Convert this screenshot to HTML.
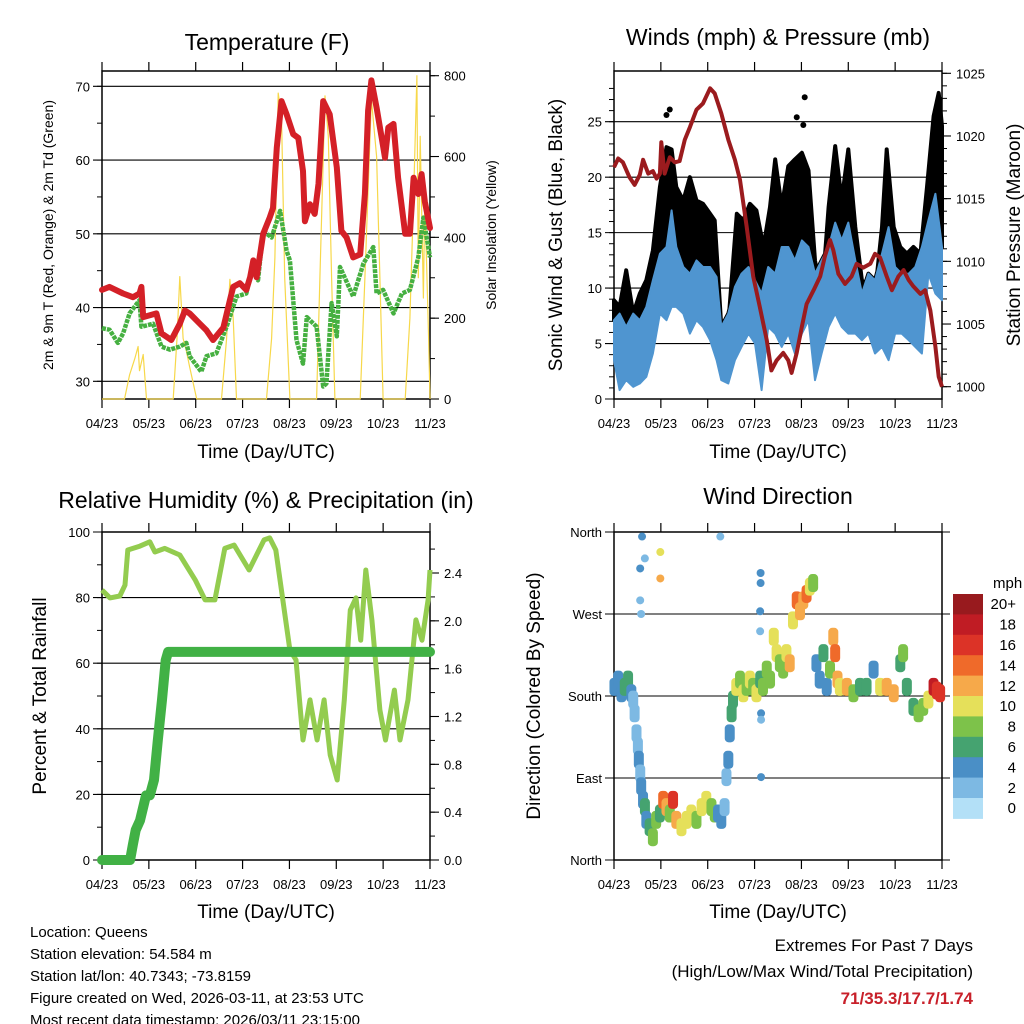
<!DOCTYPE html>
<html><head><meta charset="utf-8">
<style>
html,body{margin:0;padding:0;background:#fff;}
svg{display:block;font-family:"Liberation Sans",Arial,sans-serif;}
</style></head>
<body>
<svg id="chart" width="1024" height="1024" viewBox="0 0 1024 1024" xmlns="http://www.w3.org/2000/svg">
  <g id="static">
    <text x="267" y="50" font-size="23" text-anchor="middle">Temperature (F)</text>
    <text x="778" y="45" font-size="23" text-anchor="middle">Winds (mph) &amp; Pressure (mb)</text>
    <text x="266" y="508" font-size="23" text-anchor="middle">Relative Humidity (%) &amp; Precipitation (in)</text>
    <text x="778" y="504" font-size="23" text-anchor="middle">Wind Direction</text>
    <text x="266" y="458" font-size="19" text-anchor="middle">Time (Day/UTC)</text>
    <text x="778" y="458" font-size="19" text-anchor="middle">Time (Day/UTC)</text>
    <text x="266" y="918" font-size="19" text-anchor="middle">Time (Day/UTC)</text>
    <text x="778" y="918" font-size="19" text-anchor="middle">Time (Day/UTC)</text>
    <text transform="translate(53,235) rotate(-90)" font-size="14" text-anchor="middle">2m &amp; 9m T (Red, Orange) &amp; 2m Td (Green)</text>
    <text transform="translate(496,235) rotate(-90)" font-size="14" text-anchor="middle">Solar Insolation (Yellow)</text>
    <text transform="translate(562,235) rotate(-90)" font-size="19" text-anchor="middle">Sonic Wind &amp; Gust (Blue, Black)</text>
    <text transform="translate(1020,235) rotate(-90)" font-size="19" text-anchor="middle">Station Pressure (Maroon)</text>
    <text transform="translate(46,696) rotate(-90)" font-size="19" text-anchor="middle">Percent &amp; Total Rainfall</text>
    <text transform="translate(540,696) rotate(-90)" font-size="19" text-anchor="middle">Direction (Colored By Speed)</text>
    <g font-size="15">
      <text x="30" y="937">Location: Queens</text>
      <text x="30" y="959">Station elevation: 54.584 m</text>
      <text x="30" y="981">Station lat/lon: 40.7343; -73.8159</text>
      <text x="30" y="1003">Figure created on Wed, 2026-03-11, at 23:53 UTC</text>
      <text x="30" y="1025">Most recent data timestamp: 2026/03/11 23:15:00</text>
    </g>
    <text x="973" y="951" font-size="17" text-anchor="end">Extremes For Past 7 Days</text>
    <text x="973" y="977" font-size="17" text-anchor="end">(High/Low/Max Wind/Total Precipitation)</text>
    <text x="973" y="1004" font-size="17" font-weight="bold" fill="#c8202a" text-anchor="end">71/35.3/17.7/1.74</text>
    <text x="993" y="588" font-size="15">mph</text>
  </g>
</svg>
<script>
// ---------- DATA ----------
const xTickLabels = ["04/23","05/23","06/23","07/23","08/23","09/23","10/23","11/23"];
const tempTicks = [30,40,50,60,70];
const solarTicks = [0,200,400,600,800];
const windTicks = [0,5,10,15,20,25];
const pressTicks = [1000,1005,1010,1015,1020,1025];
const rhTicks = [0,20,40,60,80,100];
const precipTicks = [0.0,0.4,0.8,1.2,1.6,2.0,2.4];
const dirTicks = [0,90,180,270,360];
const dirTickLabels = ["North","East","South","West","North"];
const speedBins = ["0","2","4","6","8","10","12","14","16","18","20+"];

const tempT = [0,0.16,0.45,0.66,0.80,0.84,0.88,1.16,1.27,1.48,1.66,1.77,1.87,2.09,2.23,2.37,2.59,2.73,2.80,2.94,3.08,3.16,3.23,3.30,3.44,3.58,3.65,3.73,3.83,3.94,4.08,4.19,4.29,4.33,4.44,4.54,4.62,4.72,4.86,5.01,5.11,5.22,5.36,5.51,5.61,5.68,5.75,5.86,5.97,6.04,6.11,6.22,6.32,6.47,6.57,6.65,6.75,6.82,6.89,7.0];
const tempRed = [42.4,42.8,41.9,41.4,41.9,42.8,38.7,39.2,36.5,35.6,37.8,39.6,39.2,37.8,36.9,35.6,37.3,41,42.8,43.3,42.4,44.1,46.4,44.1,50,52.2,53.5,61.7,68,66.2,63.5,63,58.5,51.7,54,52.7,56.8,68,66.2,59,50.4,49.5,46.8,47.2,55.4,66.7,70.8,67.1,63,60.3,64.4,64.9,57.6,50,50,57.6,55.4,58.1,54.4,50.8];
const dewT = [0,0.16,0.34,0.45,0.59,0.80,0.84,1.09,1.27,1.45,1.66,1.80,1.87,2.12,2.23,2.44,2.66,2.87,3.08,3.23,3.33,3.44,3.62,3.80,3.94,4.01,4.15,4.29,4.37,4.58,4.72,4.79,4.90,5.01,5.08,5.36,5.58,5.79,5.86,6.00,6.22,6.40,6.57,6.75,6.86,7.0];
const dewGreen = [37.2,37,35.2,36.5,39.2,41,37.4,37.8,34.7,34.3,34.7,35.2,33.4,31.3,33.4,33.8,37.4,41.5,41.9,46,43.7,50.4,49.5,53.1,47.7,46.4,35.6,32.4,38.7,37.4,29.3,29.7,40.6,36.1,45.5,41.5,46,48.2,41.9,42.4,39.2,41.9,42.4,46.8,52.2,46.8];
const solarT = [0,0.48,0.59,0.70,0.77,0.80,0.88,0.95,1.52,1.60,1.66,1.73,1.80,1.87,2.02,2.55,2.66,2.73,2.80,2.87,3.51,3.62,3.69,3.76,3.83,3.90,4.01,4.58,4.65,4.76,4.83,4.90,4.97,5.51,5.61,5.75,5.86,5.93,6.00,6.47,6.57,6.65,6.72,6.75,6.79,6.86,6.89,6.97,7.0];
const solarW = [0,0,60,100,130,70,110,0,0,150,303,150,120,80,0,0,150,296,200,0,0,150,350,757,700,300,0,0,300,750,650,300,0,0,300,742,600,300,0,0,200,500,800,300,650,250,500,150,0];

const windT = [0,0.12,0.26,0.41,0.55,0.69,0.83,0.98,1.12,1.23,1.33,1.48,1.62,1.76,1.90,2.05,2.19,2.29,2.44,2.58,2.72,2.87,3.01,3.15,3.29,3.44,3.58,3.72,3.86,4.01,4.15,4.29,4.43,4.58,4.72,4.86,5.00,5.15,5.29,5.43,5.57,5.72,5.86,6.00,6.14,6.29,6.43,6.57,6.71,6.86,7.0];
const windHi = [7.1,7.7,6.5,7.7,7.1,8.3,10.7,13.1,13.7,17.0,13.7,11.9,11.3,12.5,11.9,11.9,11.0,6.5,7.7,10.1,11.3,11.9,10.7,9.5,11.9,11.3,13.7,13.7,12.5,14.3,13.7,11.3,12.5,13.7,15.9,14.3,15.9,12.5,9.5,11.3,10.7,13.1,15.5,11.9,11.3,11.3,11.9,13.7,16.1,18.5,13.7];
const windLo = [3.5,0.8,1.7,1.1,1.4,2.0,4.1,7.7,7.1,8.3,8.3,7.7,5.9,7.1,6.5,5.3,3.5,1.7,1.4,3.5,4.7,5.9,5.0,0.8,6.5,5.9,4.7,5.9,4.1,5.9,7.1,1.7,4.1,6.5,7.7,6.5,5.9,5.9,5.3,5.9,4.1,4.7,3.5,5.9,5.9,5.3,4.7,4.1,11.3,9.5,8.9];
const gustT = [0,0.12,0.26,0.41,0.55,0.69,0.83,0.98,1.12,1.23,1.33,1.48,1.62,1.76,1.90,2.05,2.15,2.29,2.44,2.62,2.76,2.90,3.04,3.19,3.33,3.44,3.58,3.72,3.86,4.01,4.15,4.29,4.43,4.58,4.72,4.86,5.00,5.15,5.29,5.43,5.57,5.72,5.82,5.97,6.11,6.25,6.39,6.54,6.68,6.82,6.93,7.0];
const gustHi = [8.9,8.3,11.6,7.7,9.5,10.7,13.4,19.1,22.7,22.5,19.1,17.9,20.0,17.9,17.6,16.7,16.1,6.5,6.8,16.7,16.1,17.6,17.0,13.7,17.3,21.6,17.3,21.0,21.6,22.2,20.6,12.5,8.9,17.3,22.8,17.9,22.5,15.5,10.7,10.1,9.5,15.5,22.5,15.5,13.7,13.1,13.7,13.1,19.1,25.5,27.6,24.6];
const gustOutT = [1.12,1.19,3.90,4.04,4.07,6.95];
const gustOutV = [25.6,26.1,25.4,24.7,27.2,27.0];
const pressT = [0,0.09,0.19,0.33,0.44,0.55,0.62,0.73,0.83,0.91,0.98,1.01,1.08,1.19,1.30,1.40,1.51,1.62,1.76,1.90,2.05,2.15,2.29,2.44,2.58,2.69,2.83,2.97,3.11,3.26,3.36,3.47,3.61,3.72,3.79,3.90,4.01,4.11,4.26,4.40,4.50,4.61,4.68,4.79,4.93,5.07,5.18,5.32,5.47,5.57,5.68,5.82,5.93,6.07,6.18,6.29,6.39,6.54,6.64,6.75,6.86,6.93,7.0];
const pressMb = [1017.5,1018.2,1017.9,1016.7,1016.1,1016.9,1018.1,1017,1017.2,1016.6,1017,1019.5,1017,1018.3,1017.9,1018,1019.7,1020.7,1022.1,1022.6,1023.8,1023.4,1021.8,1019.7,1018.1,1016.5,1012.8,1008.8,1006.4,1003.7,1001.3,1002.1,1002.7,1002.1,1001.1,1002.7,1004.8,1006.6,1007.7,1008.8,1010.4,1011.7,1010.9,1009,1008.2,1008.8,1009.8,1009.5,1009.8,1010.6,1010.3,1008.8,1007.7,1008.8,1009.3,1008.5,1008,1007.4,1007.7,1006.1,1003.2,1000.8,1000];

const rhT = [0,0.17,0.38,0.49,0.55,0.81,1.02,1.13,1.34,1.66,1.99,2.20,2.41,2.62,2.82,3.14,3.46,3.58,3.71,4.01,4.14,4.29,4.44,4.59,4.74,4.87,5.02,5.17,5.30,5.42,5.52,5.63,5.76,5.93,6.05,6.24,6.36,6.53,6.70,6.83,6.96,7.0];
const rhVal = [82.3,79.9,80.5,83.8,94.5,95.7,97,93.9,95,93,85.4,79.3,79.3,95,96,88.4,97.6,98.2,94.5,64,61,36.6,48.8,36.6,48.8,32,24.4,48.8,76.2,79.9,67,88.4,73.2,45.7,36.6,51.8,36.6,48.8,73.2,67,79.3,88.4];
const rainT = [0,0.6,0.66,0.72,0.81,0.94,1.02,1.11,1.19,1.28,1.36,1.41,7.0];
const rainIn = [0,0,0.13,0.25,0.33,0.54,0.54,0.67,1.0,1.34,1.67,1.74,1.74];

const dirT = [0.01,0.09,0.16,0.23,0.30,0.37,0.41,0.44,0.48,0.51,0.53,0.56,0.58,0.62,0.66,0.69,0.76,0.83,0.90,0.98,1.05,1.12,1.19,1.26,1.33,1.44,1.55,1.65,1.76,1.87,1.97,2.08,2.15,2.22,2.29,2.36,2.40,2.44,2.47,2.51,2.54,2.61,2.69,2.76,2.83,2.90,2.97,3.04,3.12,3.18,3.26,3.33,3.41,3.47,3.54,3.61,3.68,3.75,3.82,3.90,3.97,4.04,4.11,4.18,4.25,4.32,4.39,4.47,4.54,4.61,4.68,4.72,4.77,4.82,4.97,5.11,5.25,5.39,5.54,5.68,5.82,5.97,6.11,6.17,6.25,6.39,6.50,6.60,6.71,6.82,6.89,6.96,0.62,0.68,0.58,0.58,0.60,1.01,1.01,2.29,3.15,3.15,3.14,3.14,3.16,3.16,3.16];
const dirDeg = [190,198,183,190,198,183,176,161,139,125,110,95,81,66,58,44,36,25,44,51,66,58,51,66,44,36,44,51,44,58,66,58,51,51,44,58,91,110,139,161,176,190,198,183,190,198,190,183,198,190,209,198,245,227,216,209,227,216,263,285,273,285,292,300,304,216,198,227,190,209,245,227,198,190,190,183,190,190,209,190,190,183,216,227,190,168,161,168,176,190,186,183,355,331,320,285,270,338,309,355,315,304,273,251,161,154,91];
const dirSpd = [4,4,5,6,6,5,3,2,2,3,4,3,5,4,6,4,7,8,8,6,14,12,8,16,12,10,10,11,9,10,11,8,9,4,4,3,3,4,5,6,7,10,9,10,8,11,9,10,7,8,9,8,11,10,9,8,10,12,10,15,12,13,14,11,8,4,5,6,4,8,13,14,12,11,13,8,6,7,4,10,13,12,7,8,6,7,9,8,11,18,16,17,4,2,4,2,2,10,13,2,4,4,4,2,4,2,4];

// ---------- DRAWING ----------
const NS = "http://www.w3.org/2000/svg";
const svg = document.getElementById('chart');
function mk(tag, attrs, parent){
  const e = document.createElementNS(NS, tag);
  for (const k in attrs) e.setAttribute(k, attrs[k]);
  (parent||svg).appendChild(e);
  return e;
}
function linScale(d0,d1,r0,r1){ return v => r0 + (v-d0)/(d1-d0)*(r1-r0); }
function pathFrom(xs, ys, fx, fy){ return xs.map((t,i)=>(i?'L':'M')+fx(t).toFixed(1)+','+fy(ys[i]).toFixed(1)).join(''); }

const speedColors = ["#b3e0f7","#7db9e3","#4a8fc6","#45a370","#7dc24a","#e5e05a","#f6a94a","#ef6a2a","#dc3327","#c01c24","#981a1e"];

function frame(name, x0, x1, y0, y1){
  const g = mk('g', {});
  
  
  const r = mk('rect', {x:x0, y:y0, width:x1-x0, height:y1-y0, fill:'none', stroke:'#000', 'stroke-width':1.5}, g);
  
  
  const fx = linScale(0,7,x0,x1);
  xTickLabels.forEach((lab,i)=>{
    const x = fx(i);
    mk('line',{x1:x,x2:x,y1:y0-9,y2:y0,stroke:'#000','stroke-width':1.2},g);
    mk('line',{x1:x,x2:x,y1:y1,y2:y1+9,stroke:'#000','stroke-width':1.2},g);
    const t = mk('text',{x:x,y:y1+29,'font-size':13,'text-anchor':'middle'},g);
    t.textContent = lab;
    
    
  });
  return {g, fx};
}
function leftAxis(g, ticks, labels, fy, x0, x1, grid, minorStep, lo, hi, name){
  if (minorStep){
    for (let v=lo; v<=hi+1e-9; v+=minorStep){
      const y=fy(v); if (y< Math.min(fy(lo),fy(hi))-0.5) continue;
      mk('line',{x1:x0-5,x2:x0,y1:y,y2:y,stroke:'#000','stroke-width':1},g);
    }
  }
  ticks.forEach((v,i)=>{
    const y = fy(v);
    mk('line',{x1:x0-9,x2:grid?x1:x0,y1:y,y2:y,stroke:'#000','stroke-width':1.1},g);
    const t = mk('text',{x:x0-12,y:y+5,'font-size':13,'text-anchor':'end'},g);
    t.textContent = labels[i];
    
    
  });
}
function rightAxis(g, ticks, labels, fy, x1, minorStep, lo, hi, name){
  if (minorStep){
    for (let v=lo; v<=hi+1e-9; v+=minorStep){
      const y=fy(v);
      mk('line',{x1:x1,x2:x1+5,y1:y,y2:y,stroke:'#000','stroke-width':1},g);
    }
  }
  ticks.forEach((v,i)=>{
    const y = fy(v);
    mk('line',{x1:x1,x2:x1+9,y1:y,y2:y,stroke:'#000','stroke-width':1.1},g);
    const t = mk('text',{x:x1+14,y:y+5,'font-size':13,'text-anchor':'start'},g);
    t.textContent = labels[i];
    
    
  });
}

// ===== Panel 1: Temperature =====
(function(){
  const x0=102,x1=430,y0=71,y1=399;
  const {g,fx} = frame('temperature',x0,x1,y0,y1);
  const fy = linScale(30,70,381.3,86.3);
  const fs = linScale(0,800,399,75.7);
  leftAxis(g,tempTicks,tempTicks.map(String),fy,x0,x1,true,5,30,70,'temp-y');
  rightAxis(g,solarTicks,solarTicks.map(String),fs,x1,100,0,800,'solar-y');
  const s = mk('path',{d:pathFrom(solarT,solarW,fx,fs),fill:'none',stroke:'#f7d84a','stroke-width':1.2,'stroke-linejoin':'round'});
  
  
  const d = mk('path',{d:pathFrom(dewT,dewGreen,fx,fy),fill:'none',stroke:'#46b041','stroke-width':4.5,'stroke-dasharray':'4 1','stroke-linejoin':'round'});
  
  
  const r = mk('path',{d:pathFrom(tempT,tempRed,fx,fy),fill:'none',stroke:'#d42027','stroke-width':6,'stroke-linejoin':'round','stroke-linecap':'round'});
  
  
})();

// ===== Panel 2: Winds =====
(function(){
  const x0=614,x1=942,y0=71,y1=399;
  const {g,fx} = frame('winds',x0,x1,y0,y1);
  const fy = linScale(0,25,399,121.7);
  const fp = linScale(1000,1025,386.7,73.3);
  leftAxis(g,windTicks,windTicks.map(String),fy,x0,x1,true,1,0,28,'wind-y');
  rightAxis(g,pressTicks,pressTicks.map(String),fp,x1,1,1000,1025,'pressure-y');
  let dd = gustT.map((t,i)=>(i?'L':'M')+fx(t).toFixed(1)+','+fy(gustHi[i]).toFixed(1)).join('');
  for (let i=windT.length-1;i>=0;i--) dd += 'L'+fx(windT[i]).toFixed(1)+','+fy(windHi[i]).toFixed(1);
  const gb = mk('path',{d:dd+'Z',fill:'#000',stroke:'#000','stroke-width':4,'stroke-linejoin':'round'});
  
  
  gustOutT.forEach((t,i)=>{
    const c = mk('circle',{cx:fx(t),cy:fy(gustOutV[i]),r:3,fill:'#000'});
    
    
  });
  let wd = windT.map((t,i)=>(i?'L':'M')+fx(t).toFixed(1)+','+fy(windHi[i]).toFixed(1)).join('');
  for (let i=windT.length-1;i>=0;i--) wd += 'L'+fx(windT[i]).toFixed(1)+','+fy(windLo[i]).toFixed(1);
  const wb = mk('path',{d:wd+'Z',fill:'#4f95d0',stroke:'#4f95d0','stroke-width':2,'stroke-linejoin':'round'});
  
  
  const p = mk('path',{d:pathFrom(pressT,pressMb,fx,fp),fill:'none',stroke:'#9b1b1e','stroke-width':4,'stroke-linejoin':'round'});
  
  
})();

// ===== Panel 3: RH & precip =====
(function(){
  const x0=102,x1=430,y0=532,y1=860;
  const {g,fx} = frame('humidity',x0,x1,y0,y1);
  const fy = linScale(0,100,860,532);
  const fr = linScale(0,2.4,860,573);
  leftAxis(g,rhTicks,rhTicks.map(String),fy,x0,x1,true,10,0,100,'rh-y');
  rightAxis(g,precipTicks,precipTicks.map(v=>v.toFixed(1)),fr,x1,0.2,0,2.6,'precip-y');
  const h = mk('path',{d:pathFrom(rhT,rhVal,fx,fy),fill:'none',stroke:'#93cc4f','stroke-width':5,'stroke-linejoin':'round'});
  
  
  const rr = mk('path',{d:pathFrom(rainT,rainIn,fx,fr),fill:'none',stroke:'#41b145','stroke-width':10,'stroke-linejoin':'round','stroke-linecap':'round'});
  
  
})();

// ===== Panel 4: Wind direction =====
(function(){
  const x0=614,x1=942,y0=532,y1=860;
  const {g,fx} = frame('direction',x0,x1,y0,y1);
  const fy = linScale(0,360,860,532);
  leftAxis(g,dirTicks,dirTickLabels,fy,x0,x1+8,true,0,0,360,'direction-y');
  const pg = mk('g',{});
  
  
  dirT.forEach((t,i)=>{
    const bin = Math.min(10, Math.max(0, Math.floor(dirSpd[i]/2)));
    const big = i < 92;
    const c = mk('rect',{x:fx(t)-5, y:fy(dirDeg[i])-(big?9:4), width:big?10:8, height:big?18:8, rx:4, fill:speedColors[bin]}, pg);
    
    
  });
  const cb = mk('g',{});
  
  
  const top=594, bh=20.4;
  speedBins.forEach((lab,i)=>{
    const k = 10 - i;
    const y = top + i*bh;
    const rc = mk('rect',{x:953,y:y,width:30,height:bh+0.5,fill:speedColors[k]},cb);
    
    
    const tx = mk('text',{x:1016,y:y+bh/2+5,'font-size':15,'text-anchor':'end'},cb);
    tx.textContent = speedBins[k];
    
    
  });
})();
</script>
</body></html>
